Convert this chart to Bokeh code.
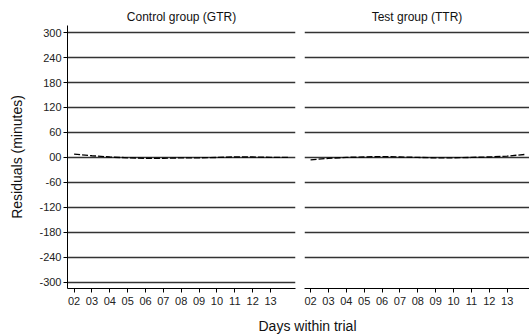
from bokeh.plotting import figure
from bokeh.layouts import column, row
from bokeh.models import FixedTicker, Range1d, Label
from bokeh.embed import file_html
from bokeh.resources import INLINE

days = [2, 3, 4, 5, 6, 7, 8, 9, 10, 11, 12, 13, 14]
control_resid = [8, 4, 1, -1, -2, -2, -1, -1, 0, 1, 1, 0, 0]
test_resid = [-6, -2, 0, 1, 2, 1, 0, -1, -1, 0, 1, 3, 7]
x_ticks = [2, 3, 4, 5, 6, 7, 8, 9, 10, 11, 12, 13]
x_tick_labels = ["02", "03", "04", "05", "06", "07", "08", "09", "10", "11", "12", "13"]
y_ticks = [-300, -240, -180, -120, -60, 0, 60, 120, 180, 240, 300]
y_tick_labels = ["-300", "-240", "-180", "-120", "-60", "00", "60", "120", "180", "240", "300"]
titles = ["Control group (GTR)", "Test group (TTR)"]

FONT = "Liberation Sans"
GRID = "#333333"


def style(p, ygrid_ticks):
    p.title.text_font = FONT
    p.title.text_font_size = "12px"
    p.title.text_font_style = "normal"
    p.title.align = "center"
    p.title.standoff = 3
    p.title.text_color = "#111111"
    p.outline_line_color = None
    p.xgrid.visible = False
    p.ygrid.ticker = FixedTicker(ticks=ygrid_ticks)
    p.ygrid.grid_line_color = GRID
    p.ygrid.grid_line_width = 1.3
    xa = p.xaxis[0]
    xa.ticker = FixedTicker(ticks=x_ticks)
    xa.major_label_overrides = {t: l for t, l in zip(x_ticks, x_tick_labels)}
    xa.major_tick_out = 4
    xa.major_tick_in = 0
    xa.minor_tick_out = 0
    xa.minor_tick_in = 0
    xa.major_label_standoff = 4
    xa.major_label_text_font = FONT
    xa.major_label_text_font_size = "11px"
    xa.major_label_text_color = "#222222"
    xa.axis_line_color = "black"
    xa.major_tick_line_color = "black"


def panel(title, y, xr, width, border_left, border_right, grid_ticks, show_y):
    p = figure(width=width, height=312, title=title,
               x_range=xr, y_range=Range1d(-315, 317),
               output_backend="svg", toolbar_location=None,
               y_axis_location="left" if show_y else None,
               min_border_left=border_left, min_border_right=border_right,
               min_border_top=25, min_border_bottom=24)
    style(p, grid_ticks)
    if show_y:
        ya = p.yaxis[0]
        ya.ticker = FixedTicker(ticks=y_ticks)
        ya.major_label_overrides = {t: l for t, l in zip(y_ticks, y_tick_labels)}
        ya.major_tick_out = 4
        ya.major_tick_in = 0
        ya.minor_tick_out = 0
        ya.minor_tick_in = 0
        ya.major_label_standoff = 2
        ya.major_label_text_font = FONT
        ya.major_label_text_font_size = "11px"
        ya.major_label_text_color = "#222222"
        ya.axis_label = "Residuals (minutes)"
        ya.axis_label_text_font = FONT
        ya.axis_label_text_font_size = "14px"
        ya.axis_label_text_font_style = "normal"
        ya.axis_label_standoff = 11
        ya.axis_label_text_color = "#111111"
        ya.axis_line_color = "black"
        ya.major_tick_line_color = "black"
    p.line(days, y, line_color="black", line_width=1.4, line_dash="6 2")
    return p


left = panel(titles[0], control_resid, Range1d(1.63, 14.4), 300, 67, 5,
             y_ticks, True)
right = panel(titles[1], test_resid, Range1d(1.66, 14.25), 229, 4, 0,
              [t for t in y_ticks if t != -300], False)

bottom = figure(width=529, height=24, x_range=Range1d(0, 529), y_range=Range1d(0, 24),
                output_backend="svg", toolbar_location=None,
                min_border=0, x_axis_location=None, y_axis_location=None)
bottom.outline_line_color = None
bottom.grid.visible = False
bottom.add_layout(Label(x=307, y=11, x_units="screen", y_units="screen",
                        text="Days within trial", text_align="center",
                        text_baseline="middle", text_font=FONT,
                        text_font_size="14px", text_color="#111111"))

layout = column(row(left, right, spacing=0), bottom, spacing=0)
open("out.html", "w").write(file_html(layout, INLINE))
